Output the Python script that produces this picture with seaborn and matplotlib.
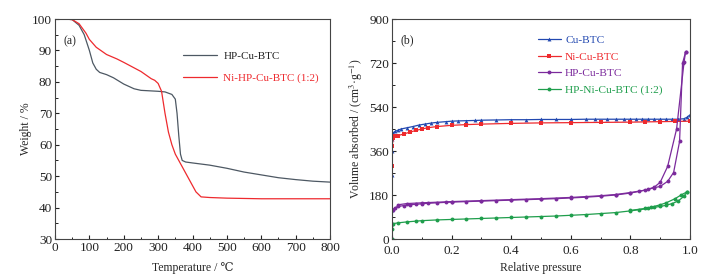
import matplotlib
matplotlib.use('Agg')
from matplotlib import pyplot as plt
from matplotlib.ticker import MultipleLocator
import seaborn as sns

# TGA curves, panel (a)
temp_hp = [30, 50, 70, 85, 100, 110, 120, 130, 150, 170, 200, 230, 250, 300, 320, 340, 350, 355, 360, 365, 370, 380, 400, 450, 500, 550, 600, 650, 700, 750, 800]
weight_hp = [100, 99.8, 98, 95, 90, 86, 84, 83, 82.3, 81.3, 79.3, 77.8, 77.3, 77, 76.8, 76, 74.5, 70, 63, 57, 55, 54.5, 54.2, 53.5, 52.5, 51.3, 50.4, 49.5, 48.9, 48.4, 48.1]
temp_ni = [30, 50, 70, 90, 100, 120, 150, 180, 200, 250, 280, 290, 300, 310, 320, 330, 340, 350, 370, 390, 410, 425, 450, 500, 600, 700, 800]
weight_ni = [100, 99.8, 98.5, 95.5, 93.5, 91, 88.7, 87.3, 86.2, 83.3, 81, 80.5, 79.5, 77, 70, 64, 60, 57, 53, 49, 45, 43.4, 43.2, 43, 42.8, 42.8, 42.8]

# N2 isotherms, panel (b)
p_cu = [0.0, 0.0, 0.0, 0.0005, 0.001, 0.002, 0.005, 0.01, 0.02, 0.03, 0.05, 0.07, 0.09, 0.11, 0.13, 0.15, 0.18, 0.2, 0.22, 0.25, 0.28, 0.3, 0.35, 0.4, 0.45, 0.5, 0.55, 0.6, 0.65, 0.68, 0.72, 0.75, 0.78, 0.8, 0.82, 0.84, 0.86, 0.88, 0.9, 0.92, 0.94, 0.96, 0.98, 0.99, 1.0]
v_cu = [0, 120, 260, 360, 410, 430, 435, 440, 445, 450, 455, 460, 466, 470, 474, 477, 480, 482, 483, 484, 485, 486, 487, 488, 488, 489, 489, 489, 490, 490, 490, 490, 490, 490, 490, 490, 490, 490, 490, 490, 490, 490, 492, 498, 508]
p_ni = [0.0, 0.0, 0.005, 0.01, 0.02, 0.04, 0.06, 0.08, 0.1, 0.12, 0.15, 0.2, 0.25, 0.3, 0.4, 0.5, 0.6, 0.7, 0.8, 0.85, 0.9, 0.95, 1.0]
v_ni = [300, 380, 415, 420, 423, 430, 437, 444, 450, 455, 460, 465, 468, 470, 473, 475, 476, 477, 478, 479, 480, 481, 482]
p_hp_ads = [0.0, 0.0, 0.002, 0.01, 0.02, 0.04, 0.06, 0.08, 0.1, 0.12, 0.15, 0.18, 0.2, 0.25, 0.3, 0.35, 0.4, 0.45, 0.5, 0.55, 0.6, 0.65, 0.7, 0.75, 0.8, 0.83, 0.86, 0.88, 0.9, 0.925, 0.945, 0.965, 0.975, 0.985]
v_hp_ads = [0, 60, 120, 128, 133, 137, 140, 142, 144, 146, 148, 150, 151, 153, 155, 157, 159, 161, 163, 165, 168, 171, 175, 180, 188, 195, 203, 210, 215, 236, 272, 399, 719, 764]
p_hp_des = [0.985, 0.98, 0.955, 0.925, 0.9, 0.88, 0.85, 0.8, 0.75, 0.7, 0.6, 0.5, 0.4, 0.3, 0.2, 0.1, 0.05, 0.02]
v_hp_des = [764, 723, 450, 297, 232, 212, 200, 190, 182, 177, 170, 165, 161, 157, 153, 148, 145, 140]
p_hpni_ads = [0.0, 0.0, 0.005, 0.02, 0.05, 0.08, 0.1, 0.15, 0.2, 0.25, 0.3, 0.35, 0.4, 0.45, 0.5, 0.55, 0.6, 0.65, 0.7, 0.75, 0.8, 0.83, 0.86, 0.88, 0.9, 0.92, 0.94, 0.96, 0.98, 0.99]
v_hpni_ads = [0, 40, 63, 66, 70, 73, 75, 78, 80, 82, 84, 86, 88, 90, 92, 94, 97, 100, 104, 108, 115, 120, 125, 130, 133, 138, 145, 155, 175, 193]
p_hpni_des = [0.99, 0.97, 0.95, 0.92, 0.9, 0.87, 0.85, 0.8]
v_hpni_des = [193, 180, 165, 148, 140, 130, 125, 117]

tga_labels = ['HP-Cu-BTC', 'Ni-HP-Cu-BTC (1:2)']
iso_labels = ['Cu-BTC', 'Ni-Cu-BTC', 'HP-Cu-BTC', 'HP-Ni-Cu-BTC (1:2)']

c_gray = '#4d5863'
c_red = '#ee2a2e'
c_blue = '#2248b0'
c_purple = '#7b2a9c'
c_green = '#1f9e4c'

sns.set_style('ticks')
plt.rcParams['font.family'] = ['Liberation Serif', 'DejaVu Serif']
plt.rcParams['mathtext.fontset'] = 'stix'
plt.rcParams['font.size'] = 8.5
plt.rcParams['axes.edgecolor'] = '#444444'
plt.rcParams['axes.linewidth'] = 0.8
plt.rcParams['xtick.direction'] = 'in'
plt.rcParams['ytick.direction'] = 'in'
plt.rcParams['xtick.color'] = '#222222'
plt.rcParams['ytick.color'] = '#222222'


def style_axes(ax):
    ax.tick_params(which='major', length=3, width=0.8, labelsize=9.5, pad=2)
    ax.tick_params(which='minor', length=1.8, width=0.7)
    ax.tick_params(top=False, right=False, which='both')
    for s in ax.spines.values():
        s.set_visible(True)
        s.set_color('#444444')


fig = plt.figure(figsize=(7.2, 2.78), dpi=100)
ax1 = fig.add_axes([55 / 720, 39 / 278, 275 / 720, 220 / 278])
ax2 = fig.add_axes([392 / 720, 39 / 278, 298 / 720, 220 / 278])

# panel (a)
sns.lineplot(x=temp_hp, y=weight_hp, ax=ax1, color=c_gray, lw=0.9, sort=False, estimator=None, label=tga_labels[0])
sns.lineplot(x=temp_ni, y=weight_ni, ax=ax1, color=c_red, lw=0.9, sort=False, estimator=None, label=tga_labels[1])
ax1.set_xlim(0, 800)
ax1.set_ylim(30, 100)
ax1.xaxis.set_major_locator(MultipleLocator(100))
ax1.xaxis.set_minor_locator(MultipleLocator(50))
ax1.yaxis.set_major_locator(MultipleLocator(10))
ax1.yaxis.set_minor_locator(MultipleLocator(5))
ax1.set_xlabel('Temperature / \u2103', fontsize=8.5)
ax1.set_ylabel('Weight / %', fontsize=8.5)
ax1.xaxis.set_label_coords(0.5, -0.105)
ax1.yaxis.set_label_coords(-0.084, 0.5)
style_axes(ax1)
ax1.text(0.03, 0.9, '(a)', transform=ax1.transAxes, fontsize=8.5, va='center')
ax1.legend(loc='upper left', bbox_to_anchor=(0.43, 0.9), frameon=False,
           handlelength=3.0, labelspacing=1.1, handletextpad=0.6, fontsize=8,
           labelcolor=['#222222', c_red])

# panel (b)
iso = [
    (p_cu, v_cu, c_blue, '^', iso_labels[0]),
    (p_ni, v_ni, c_red, 's', iso_labels[1]),
    (p_hp_ads, v_hp_ads, c_purple, 'o', iso_labels[2]),
    (p_hp_des, v_hp_des, c_purple, 'o', None),
    (p_hpni_ads, v_hpni_ads, c_green, 'o', iso_labels[3]),
    (p_hpni_des, v_hpni_des, c_green, 'o', None),
]
for px, vy, col, mk, lab in iso:
    sns.lineplot(x=px, y=vy, ax=ax2, color=col, lw=0.9, sort=False, estimator=None,
                 marker=mk, markersize=2.8, markeredgewidth=0, label=lab)
ax2.set_xlim(0, 1.0)
ax2.set_ylim(0, 900)
ax2.xaxis.set_major_locator(MultipleLocator(0.2))
ax2.xaxis.set_minor_locator(MultipleLocator(0.1))
ax2.yaxis.set_major_locator(MultipleLocator(180))
ax2.yaxis.set_minor_locator(MultipleLocator(90))
ax2.set_xticks([0.0, 0.2, 0.4, 0.6, 0.8, 1.0])
ax2.set_xticklabels(['0.0', '0.2', '0.4', '0.6', '0.8', '1.0'])
ax2.set_xlabel('Relative pressure', fontsize=8.5)
ax2.set_ylabel('Volume absorbed / (cm$^3$\u00b7g$^{-1}$)', fontsize=8.5)
ax2.xaxis.set_label_coords(0.5, -0.105)
ax2.yaxis.set_label_coords(-0.092, 0.5)
style_axes(ax2)
ax2.tick_params(axis='x', pad=4.5)
ax2.text(0.03, 0.905, '(b)', transform=ax2.transAxes, fontsize=8.5, va='center')
ax2.legend(loc='upper left', bbox_to_anchor=(0.455, 0.975), frameon=False,
           handlelength=2.0, labelspacing=0.6, handletextpad=0.4, fontsize=8.2,
           labelcolor='linecolor')

plt.savefig('out.png', dpi=100)
